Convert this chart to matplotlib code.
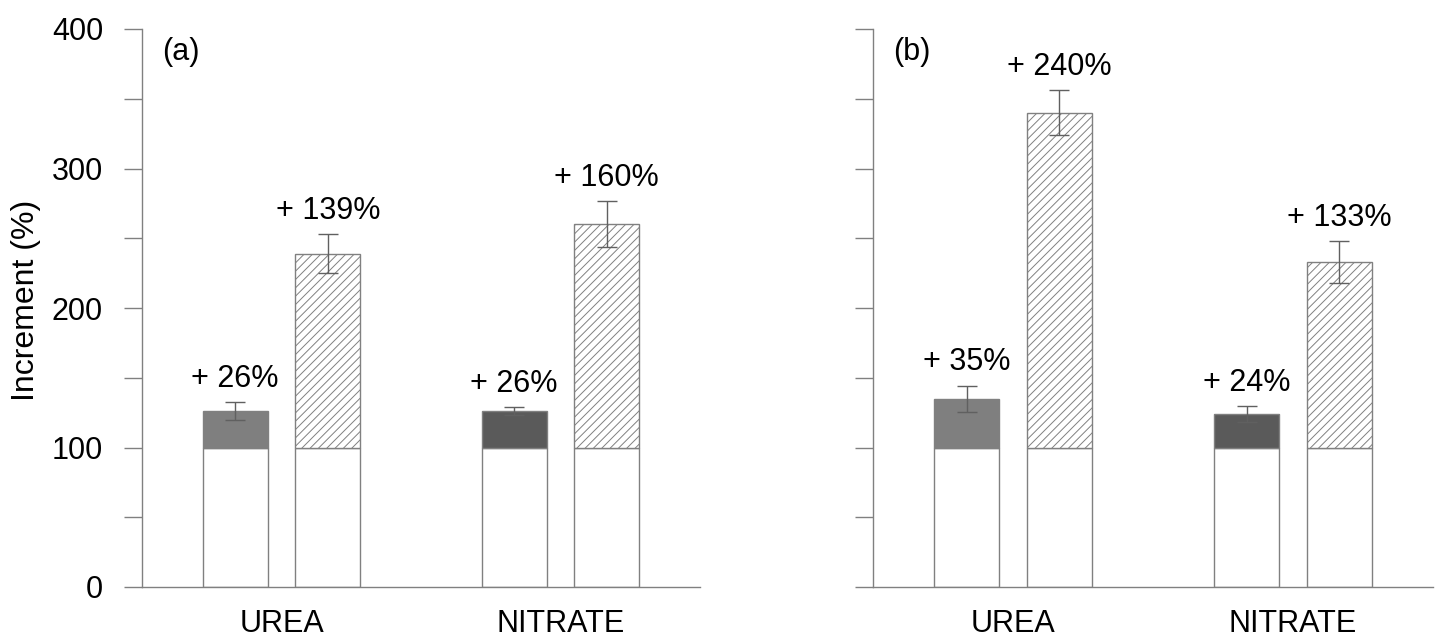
import matplotlib.pyplot as plt

plt.rcParams['font.family'] = ['Liberation Sans', 'DejaVu Sans']
plt.rcParams['hatch.linewidth'] = 0.7

# Datos: incremento (%) respecto al control (100 %)
categorias = ['UREA', 'NITRATE']
base = 100
# panel (a)
a_gris = [126, 126]
a_gris_err = [6.5, 2.8]
a_rayado = [239, 260]
a_rayado_err = [14, 16.5]
# panel (b)
b_gris = [135, 124]
b_gris_err = [9.4, 5.5]
b_rayado = [340, 233]
b_rayado_err = [16, 15]

colores_gris = ['#7f7f7f', '#5a5a5a']
borde = '#808080'
tam = 22

fig = plt.figure(figsize=(14.36, 6.4), dpi=100)
ax_a = fig.add_axes([142/1436, 1-587/640, 558/1436, 558/640])
ax_b = fig.add_axes([873/1436, 1-587/640, 560/1436, 558/640])

ancho = 0.232
desp = 0.166


def panel(ax, gris, gris_err, rayado, rayado_err, letra, etiquetas_y):
    for i in range(len(categorias)):
        x1 = i - desp
        x2 = i + desp
        # base blanca hasta 100
        ax.bar([x1, x2], [base, base], width=ancho, color='white',
               edgecolor=borde, linewidth=1, zorder=2)
        # parte gris
        ax.bar(x1, gris[i] - base, bottom=base, width=ancho,
               color=colores_gris[i], edgecolor=borde, linewidth=1, zorder=2)
        # parte rayada
        ax.bar(x2, rayado[i] - base, bottom=base, width=ancho,
               color='white', edgecolor=borde, hatch='////', linewidth=1, zorder=2)
        ax.errorbar([x1, x2], [gris[i], rayado[i]], yerr=[gris_err[i], rayado_err[i]],
                    fmt='none', ecolor='#606060', elinewidth=1, capsize=7,
                    capthick=1, zorder=3)
        ax.text(x1, gris[i] + gris_err[i] + 11, '+ %d%%' % (gris[i] - base),
                ha='center', va='baseline', fontsize=tam)
        ax.text(x2, rayado[i] + rayado_err[i] + 11, '+ %d%%' % (rayado[i] - base),
                ha='center', va='baseline', fontsize=tam)

    ax.set_xlim(-0.5, 1.5)
    ax.set_ylim(0, 400)
    ax.set_yticks(range(0, 401, 50))
    if etiquetas_y:
        ax.set_yticklabels([str(v) if v % 100 == 0 else '' for v in range(0, 401, 50)])
    else:
        ax.set_yticklabels([])
    ax.tick_params(axis='y', direction='out', length=13, width=1, color=borde,
                   labelsize=tam, pad=15)
    ax.set_xticks(range(len(categorias)))
    ax.set_xticklabels(categorias)
    ax.tick_params(axis='x', length=0, labelsize=tam, pad=16)
    for s in ['top', 'right']:
        ax.spines[s].set_visible(False)
    for s in ['left', 'bottom']:
        ax.spines[s].set_color(borde)
        ax.spines[s].set_linewidth(1)
    ax.text(20/558, (587-52)/558, letra, transform=ax.transAxes,
            ha='left', va='center', fontsize=tam)


panel(ax_a, a_gris, a_gris_err, a_rayado, a_rayado_err, '(a)', True)
panel(ax_b, b_gris, b_gris_err, b_rayado, b_rayado_err, '(b)', False)

fig.text(26/1436, 1-300/640, 'Increment (%)', rotation=90, ha='center',
         va='center', fontsize=23)

fig.savefig('out.png', dpi=100)
